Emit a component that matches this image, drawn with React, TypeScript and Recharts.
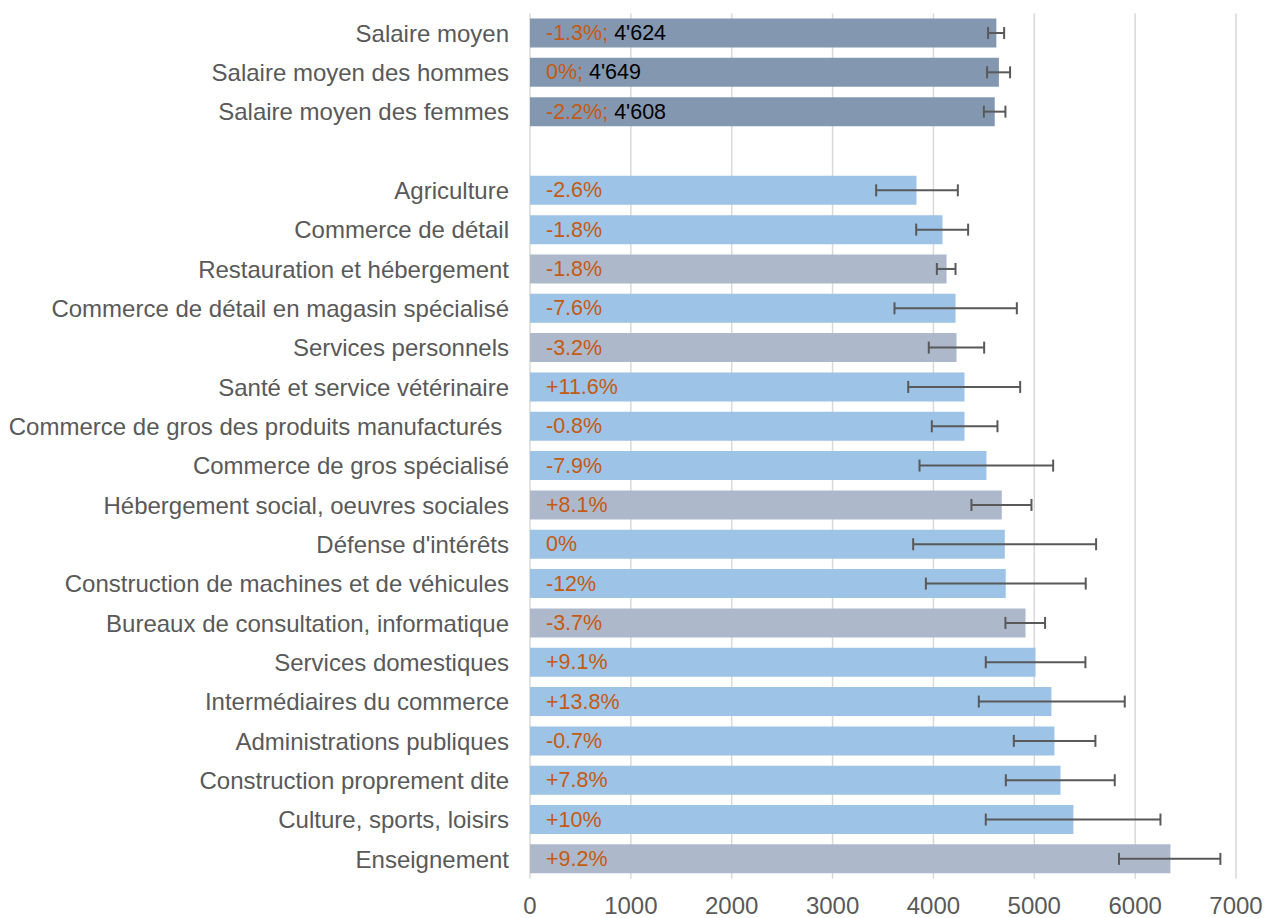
import React from 'react'
import { Bar, BarChart, CartesianGrid, Cell, ErrorBar, LabelList, XAxis, YAxis } from 'recharts'

const categories = [
  'Salaire moyen',
  'Salaire moyen des hommes',
  'Salaire moyen des femmes',
  '',
  'Agriculture',
  'Commerce de détail',
  'Restauration et hébergement',
  'Commerce de détail en magasin spécialisé',
  'Services personnels',
  'Santé et service vétérinaire',
  'Commerce de gros des produits manufacturés\u00a0',
  'Commerce de gros spécialisé',
  'Hébergement social, oeuvres sociales',
  "Défense d'intérêts",
  'Construction de machines et de véhicules',
  'Bureaux de consultation, informatique',
  'Services domestiques',
  'Intermédiaires du commerce',
  'Administrations publiques',
  'Construction proprement dite',
  'Culture, sports, loisirs',
  'Enseignement',
]

const salaries = [
  4624, 4649, 4608, null, 3832, 4090, 4130, 4219, 4229, 4308, 4308, 4526, 4678, 4708, 4717, 4913,
  5012, 5170, 5200, 5260, 5388, 6350,
]
const errLow = [
  4542, 4532, 4500, null, 3432, 3829, 4034, 3614, 3954, 3750, 3984, 3862, 4377, 3799, 3925, 4714,
  4519, 4450, 4797, 4718, 4519, 5840,
]
const errHigh = [
  4701, 4760, 4714, null, 4242, 4344, 4219, 4827, 4503, 4860, 4635, 5187, 4972, 5613, 5510, 5107,
  5507, 5897, 5606, 5798, 6251, 6845,
]
const changes = [
  '-1.3%', '0%', '-2.2%', '', '-2.6%', '-1.8%', '-1.8%', '-7.6%', '-3.2%', '+11.6%', '-0.8%',
  '-7.9%', '+8.1%', '0%', '-12%', '-3.7%', '+9.1%', '+13.8%', '-0.7%', '+7.8%', '+10%', '+9.2%',
]
// total = overall averages, low = branch highlighted in grey
const groups = [
  'total', 'total', 'total', '', 'branch', 'branch', 'low', 'branch', 'low', 'branch', 'branch',
  'branch', 'low', 'branch', 'branch', 'low', 'branch', 'branch', 'branch', 'branch', 'branch', 'low',
]
const xTicks = [0, 1000, 2000, 3000, 4000, 5000, 6000, 7000]

const colors: Record<string, string> = {
  total: '#8497B0',
  branch: '#9DC3E6',
  low: '#ADB9CA',
  '': '#FFFFFF',
}

const font = 'Liberation Sans, Arial, sans-serif'

const fmt = (v: number) => String(v).replace(/\B(?=(\d{3})+(?!\d))/g, "'")

const data = categories.map((name, i) => ({
  name,
  row: i,
  value: salaries[i],
  err: salaries[i] == null ? null : [salaries[i]! - errLow[i]!, errHigh[i]! - salaries[i]!],
  change: changes[i],
  group: groups[i],
}))

function BarLabel(props: any) {
  const { x, y, height, value } = props
  const d = data[Number(value)]
  if (!d || d.value == null) return null
  return (
    <text
      x={Number(x) + 16}
      y={Number(y) + Number(height) / 2}
      dominantBaseline="central"
      fontFamily={font}
      fontSize={21.5}
    >
      <tspan fill="#C55A11">{d.group === 'total' ? `${d.change};` : d.change}</tspan>
      {d.group === 'total' && <tspan fill="#000000"> {fmt(d.value)}</tspan>}
    </text>
  )
}

export default function App() {
  return (
    <div style={{ position: 'absolute', left: 8, top: 8 }}>
      <BarChart
        width={1258}
        height={910}
        data={data}
        layout="vertical"
        barSize={29}
        margin={{ top: 5.5, right: 30, bottom: 9.3, left: 0 }}
      >
        <CartesianGrid horizontal={false} stroke="#D9D9D9" strokeWidth={1.5} />
        <XAxis
          type="number"
          domain={[0, 7000]}
          ticks={xTicks}
          axisLine={false}
          tickLine={false}
          tickSize={6}
          tickMargin={12}
          height={30}
          tick={{ fill: '#595959', fontSize: 24, fontFamily: font }}
        />
        <YAxis
          type="category"
          dataKey="name"
          width={522}
          axisLine={false}
          tickLine={false}
          tickSize={6}
          tickMargin={15}
          interval={0}
          tick={{ fill: '#595959', fontSize: 24, fontFamily: font }}
        />
        <Bar dataKey="value" isAnimationActive={false}>
          {data.map((d, i) => (
            <Cell key={i} fill={colors[d.group]} />
          ))}
          <LabelList dataKey="row" content={BarLabel} />
          <ErrorBar dataKey="err" direction="x" width={6} stroke="#595959" strokeWidth={2} />
        </Bar>
      </BarChart>
    </div>
  )
}
